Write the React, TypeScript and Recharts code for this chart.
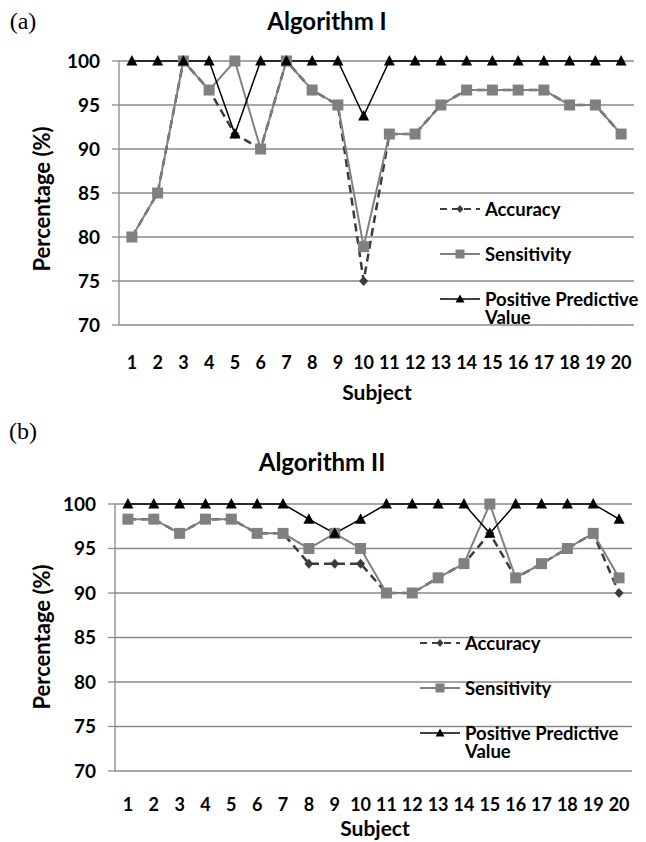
import { LineChart, Line, XAxis, YAxis, CartesianGrid, Legend } from "recharts";

const subjects = [1, 2, 3, 4, 5, 6, 7, 8, 9, 10, 11, 12, 13, 14, 15, 16, 17, 18, 19, 20];
const cellEdges = [0.5, 1.5, 2.5, 3.5, 4.5, 5.5, 6.5, 7.5, 8.5, 9.5, 10.5, 11.5, 12.5, 13.5, 14.5, 15.5, 16.5, 17.5, 18.5, 19.5, 20.5];
const yTicks = [70, 75, 80, 85, 90, 95, 100];

// Algorithm I
const accuracyA = [80, 85, 100, 96.7, 91.7, 90, 100, 96.7, 95, 75, 91.7, 91.7, 95, 96.7, 96.7, 96.7, 96.7, 95, 95, 91.7];
const sensitivityA = [80, 85, 100, 96.7, 100, 90, 100, 96.7, 95, 78.9, 91.7, 91.7, 95, 96.7, 96.7, 96.7, 96.7, 95, 95, 91.7];
const ppvA = [100, 100, 100, 100, 91.7, 100, 100, 100, 100, 93.75, 100, 100, 100, 100, 100, 100, 100, 100, 100, 100];

// Algorithm II
const accuracyB = [98.3, 98.3, 96.7, 98.3, 98.3, 96.7, 96.7, 93.3, 93.3, 93.3, 90, 90, 91.7, 93.3, 96.7, 91.7, 93.3, 95, 96.7, 90];
const sensitivityB = [98.3, 98.3, 96.7, 98.3, 98.3, 96.7, 96.7, 95, 96.7, 95, 90, 90, 91.7, 93.3, 100, 91.7, 93.3, 95, 96.7, 91.7];
const ppvB = [100, 100, 100, 100, 100, 100, 100, 98.3, 96.7, 98.3, 100, 100, 100, 100, 96.7, 100, 100, 100, 100, 98.3];

const seriesOrder = ["accuracy", "sensitivity", "ppv"];

const FONT = "Lato, 'Open Sans', sans-serif";
const GRID = "#8a8a8a";
const ACC = "#3c3c3c";
const SENS = "#808080";
const PPV = "#000000";

function marker(kind: string, cx: number, cy: number, key?: string | number) {
  if (kind === "diamond") {
    return <polygon key={key} points={`${cx},${cy - 5} ${cx + 4.5},${cy} ${cx},${cy + 5} ${cx - 4.5},${cy}`} fill={ACC} />;
  }
  if (kind === "square") {
    return <rect key={key} x={cx - 5.5} y={cy - 5.5} width={11} height={11} fill={SENS} />;
  }
  return <polygon key={key} points={`${cx},${cy - 6} ${cx + 5.5},${cy + 4.5} ${cx - 5.5},${cy + 4.5}`} fill={PPV} />;
}

function legendMarker(kind: string) {
  if (kind === "accuracy") return <polygon points="20,5 23.5,9 20,13 16.5,9" fill={ACC} />;
  if (kind === "sensitivity") return <rect x={15.5} y={4.5} width={9} height={9} fill={SENS} />;
  return <polygon points="20,4.5 24.5,12.5 15.5,12.5" fill={PPV} />;
}

// eslint-disable-next-line @typescript-eslint/no-explicit-any
function LegendBox({ payload }: any) {
  // eslint-disable-next-line @typescript-eslint/no-explicit-any
  const items = [...(payload || [])].sort((a: any, b: any) => seriesOrder.indexOf(a.dataKey) - seriesOrder.indexOf(b.dataKey));
  return (
    <div style={{ fontFamily: FONT, fontWeight: 700, fontSize: 18.5, color: "#000" }}>
      {/* eslint-disable-next-line @typescript-eslint/no-explicit-any */}
      {items.map((p: any) => (
        <div key={p.dataKey} style={{ display: "flex", alignItems: "flex-start", height: 44.8 }}>
          <svg width={40} height={18} style={{ flex: "none" }}>
            <line
              x1={0}
              x2={40}
              y1={9}
              y2={9}
              stroke={p.color}
              strokeWidth={p.dataKey === "ppv" ? 1.5 : 2}
              strokeDasharray={p.dataKey === "accuracy" ? "7 5" : undefined}
            />
            {legendMarker(p.dataKey)}
          </svg>
          <div style={{ marginLeft: 5, lineHeight: "18px", width: 180 }}>{p.value}</div>
        </div>
      ))}
    </div>
  );
}

type Geo = {
  height: number;
  top: number;
  left: number;
  right: number;
  bottom: number;
  labelGap: number;
  legendLeft: number;
  legendTop: number;
};

function Panel({ acc, sens, ppv, geo }: { acc: number[]; sens: number[]; ppv: number[]; geo: Geo }) {
  const data = subjects.map((s, i) => ({ subject: s, accuracy: acc[i], sensitivity: sens[i], ppv: ppv[i] }));
  const tickStyle = { fill: "#000", fontSize: 18, fontWeight: 700, fontFamily: FONT };
  return (
    <LineChart
      width={646}
      height={geo.height}
      data={data}
      margin={{ top: geo.top, right: geo.right, left: 0, bottom: geo.bottom }}
    >
      <CartesianGrid horizontal vertical={false} stroke={GRID} strokeWidth={1.3} />
      <XAxis
        xAxisId="cells"
        type="number"
        dataKey="subject"
        domain={[0.5, 20.5]}
        ticks={cellEdges}
        tickFormatter={() => ""}
        tickSize={7}
        tickLine={{ stroke: GRID, strokeWidth: 1.3 }}
        axisLine={{ stroke: GRID, strokeWidth: 1.3 }}
        height={0}
        allowDataOverflow
      />
      <XAxis
        xAxisId="labels"
        type="number"
        dataKey="subject"
        domain={[0.5, 20.5]}
        ticks={subjects}
        interval={0}
        axisLine={false}
        tickLine={false}
        tickSize={0}
        tickMargin={geo.labelGap}
        height={60}
        tick={tickStyle}
        allowDataOverflow
      />
      <YAxis
        type="number"
        domain={[70, 100]}
        ticks={yTicks}
        width={geo.left}
        tickSize={7}
        tickMargin={12}
        tickLine={{ stroke: GRID, strokeWidth: 1.3 }}
        axisLine={{ stroke: GRID, strokeWidth: 1.3 }}
        tick={{ ...tickStyle, fontSize: 19 }}
      />
      <Line
        xAxisId="labels"
        dataKey="accuracy"
        name="Accuracy"
        stroke={ACC}
        strokeWidth={2.5}
        strokeDasharray="8 5"
        // eslint-disable-next-line @typescript-eslint/no-explicit-any
        dot={(p: any) => marker("diamond", p.cx, p.cy, `a${p.index}`)}
        activeDot={false}
        isAnimationActive={false}
      />
      <Line
        xAxisId="labels"
        dataKey="sensitivity"
        name="Sensitivity"
        stroke={SENS}
        strokeWidth={2}
        // eslint-disable-next-line @typescript-eslint/no-explicit-any
        dot={(p: any) => marker("square", p.cx, p.cy, `s${p.index}`)}
        activeDot={false}
        isAnimationActive={false}
      />
      <Line
        xAxisId="labels"
        dataKey="ppv"
        name="Positive Predictive Value"
        stroke={PPV}
        strokeWidth={1.5}
        // eslint-disable-next-line @typescript-eslint/no-explicit-any
        dot={(p: any) => marker("triangle", p.cx, p.cy, `p${p.index}`)}
        activeDot={false}
        isAnimationActive={false}
      />
      <Legend
        layout="vertical"
        align="center"
        verticalAlign="middle"
        content={<LegendBox />}
        wrapperStyle={{ left: geo.legendLeft, top: geo.legendTop, width: 230 }}
      />
    </LineChart>
  );
}

function Text({
  x,
  y,
  children,
  size = 19,
  rotate = false,
  serif = false,
}: {
  x: number;
  y: number;
  children: React.ReactNode;
  size?: number;
  rotate?: boolean;
  serif?: boolean;
}) {
  return (
    <div
      style={{
        position: "absolute",
        left: x,
        top: y,
        transform: `translate(-50%, -50%)${rotate ? " rotate(-90deg)" : ""}`,
        whiteSpace: "nowrap",
        fontFamily: serif ? "'Liberation Serif', serif" : FONT,
        fontWeight: serif ? 400 : 700,
        fontSize: size,
        lineHeight: 1,
        color: "#000",
      }}
    >
      {children}
    </div>
  );
}

export default function App() {
  return (
    <div
      style={{
        position: "absolute",
        left: 0,
        top: 0,
        width: 646,
        height: 842,
        overflow: "hidden",
        background: "#fff",
      }}
    >
      <div style={{ position: "absolute", left: 0, top: 0 }}>
        <Panel
          acc={accuracyA}
          sens={sensitivityA}
          ppv={ppvA}
          geo={{ height: 400, top: 61, left: 119, right: 12, bottom: 15, labelGap: 31, legendLeft: 440, legendTop: 200 }}
        />
      </div>
      <div style={{ position: "absolute", left: 0, top: 420 }}>
        <Panel
          acc={accuracyB}
          sens={sensitivityB}
          ppv={ppvB}
          geo={{ height: 422, top: 84, left: 115, right: 14, bottom: 11, labelGap: 27, legendLeft: 420, legendTop: 214 }}
        />
      </div>
      <Text x={23} y={21} size={24} serif>(a)</Text>
      <Text x={327} y={21} size={24}>Algorithm I</Text>
      <Text x={42} y={199} size={22} rotate>Percentage (%)</Text>
      <Text x={377} y={391} size={21}>Subject</Text>

      <Text x={23} y={431} size={24} serif>(b)</Text>
      <Text x={322} y={462} size={24}>Algorithm II</Text>
      <Text x={42} y={637} size={22} rotate>Percentage (%)</Text>
      <Text x={375} y={827} size={21}>Subject</Text>
    </div>
  );
}
